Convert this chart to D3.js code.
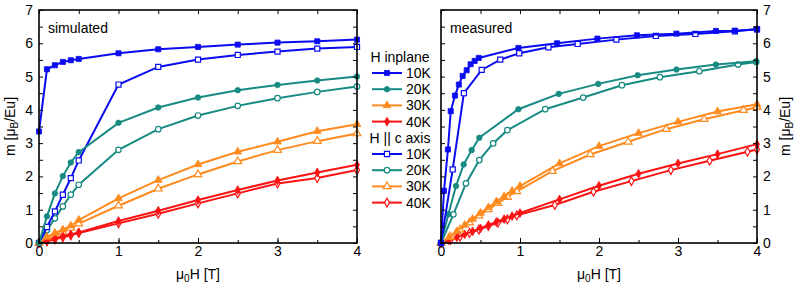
<!DOCTYPE html>
<html>
<head>
<meta charset="utf-8">
<script src="https://cdn.jsdelivr.net/npm/d3@7"></script>
<style>
  body { margin: 0; background: #fff; }
  svg { display: block; font-family: "Liberation Sans", Arial, sans-serif; }
</style>
</head>
<body>
<svg width="797" height="288"></svg>
<script>
// simulated curves, shared field values
const simH = [0, 0.1, 0.2, 0.3, 0.4, 0.5, 1, 1.5, 2, 2.5, 3, 3.5, 4];
const sim10in = [3.35, 5.22, 5.34, 5.44, 5.49, 5.53, 5.70, 5.82, 5.89, 5.96, 6.02, 6.06, 6.11];
const sim20in = [0, 0.80, 1.49, 2.01, 2.42, 2.73, 3.61, 4.07, 4.37, 4.59, 4.75, 4.88, 5.00];
const sim30in = [0, 0.18, 0.30, 0.40, 0.52, 0.69, 1.34, 1.89, 2.36, 2.74, 3.04, 3.36, 3.57];
const sim40in = [0, 0.07, 0.14, 0.21, 0.26, 0.32, 0.66, 0.97, 1.29, 1.59, 1.88, 2.12, 2.35];
const sim10c = [0, 0.48, 0.95, 1.45, 1.95, 2.48, 4.76, 5.29, 5.51, 5.65, 5.75, 5.84, 5.89];
const sim20c = [0, 0.39, 0.74, 1.10, 1.45, 1.75, 2.80, 3.42, 3.83, 4.12, 4.35, 4.54, 4.70];
const sim30c = [0, 0.12, 0.22, 0.33, 0.45, 0.58, 1.12, 1.63, 2.06, 2.45, 2.79, 3.06, 3.29];
const sim40c = [0, 0.05, 0.11, 0.17, 0.23, 0.30, 0.59, 0.88, 1.19, 1.49, 1.79, 1.95, 2.19];

// measured curves
const meas10inH = [0, 0.038, 0.088, 0.123, 0.177, 0.226, 0.274, 0.325, 0.375, 0.426, 0.478, 0.98, 1.47, 1.98, 2.48, 2.98, 3.48, 3.72, 4.0];
const meas10in = [0, 1.57, 2.81, 3.96, 4.43, 4.76, 5.02, 5.19, 5.37, 5.47, 5.56, 5.86, 6.00, 6.14, 6.24, 6.29, 6.37, 6.38, 6.42];
const meas10cH = [0, 0.148, 0.29, 0.515, 0.75, 0.99, 1.36, 1.73, 2.22, 2.72, 3.22, 3.72, 4.0];
const meas10c = [0, 2.21, 4.50, 5.20, 5.51, 5.70, 5.88, 5.98, 6.11, 6.22, 6.28, 6.36, 6.42];
const meas20inH = [0, 0.093, 0.19, 0.287, 0.388, 0.485, 0.98, 1.49, 1.99, 2.49, 2.98, 3.48, 3.99];
const meas20in = [0, 0.86, 1.71, 2.36, 2.79, 3.16, 4.02, 4.48, 4.78, 5.04, 5.21, 5.36, 5.46];
const meas20cH = [0, 0.157, 0.316, 0.485, 0.66, 0.84, 1.32, 1.80, 2.29, 2.77, 3.27, 3.76, 3.99];
const meas20c = [0, 0.86, 1.79, 2.49, 2.99, 3.39, 4.02, 4.37, 4.74, 4.98, 5.16, 5.36, 5.44];
const meas30inH = [0, 0.1, 0.2, 0.3, 0.4, 0.5, 0.6, 0.7, 0.8, 0.9, 1.0, 1.5, 2.0, 2.5, 3.0, 3.5, 4.0];
const meas30in = [0, 0.17, 0.35, 0.54, 0.72, 0.90, 1.07, 1.24, 1.40, 1.56, 1.71, 2.39, 2.91, 3.30, 3.64, 3.95, 4.17];
const meas30cH = [0, 0.12, 0.24, 0.36, 0.48, 0.6, 0.72, 0.84, 0.96, 1.41, 1.89, 2.37, 2.85, 3.33, 3.83, 4.0];
const meas30c = [0, 0.19, 0.40, 0.61, 0.82, 1.01, 1.20, 1.38, 1.55, 2.16, 2.66, 3.04, 3.42, 3.72, 3.99, 4.08];
const meas40inH = [0, 0.1, 0.2, 0.3, 0.4, 0.5, 0.6, 0.7, 0.8, 0.9, 1.0, 1.5, 2.0, 2.5, 3.0, 3.5, 4.0];
const meas40in = [0, 0.08, 0.17, 0.26, 0.35, 0.44, 0.54, 0.63, 0.72, 0.81, 0.90, 1.31, 1.72, 2.08, 2.39, 2.67, 2.97];
const meas40cH = [0, 0.12, 0.24, 0.36, 0.48, 0.6, 0.72, 0.84, 0.96, 1.44, 1.93, 2.41, 2.91, 3.40, 3.88, 4.0];
const meas40c = [0, 0.09, 0.19, 0.30, 0.40, 0.51, 0.61, 0.71, 0.83, 1.14, 1.54, 1.86, 2.19, 2.47, 2.74, 2.81];

const tempLabels = ["10K", "20K", "30K", "40K"];
const groupTitles = ["H inplane", "H || c axis"];
const xTicks = [0, 1, 2, 3, 4];

const colors = ["#0b0bf0", "#178a82", "#ff8a1e", "#fb1212"];
const shapes = [d3.symbolSquare, d3.symbolCircle, d3.symbolTriangle, d3.symbolDiamond];
const shapeSize = [26, 24, 26, 22];

const svg = d3.select("svg");
const plotTop = 10, plotBottom = 243;

const y = d3.scaleLinear().domain([0, 7]).range([plotBottom, plotTop]);

function zip(xs, ys) { return xs.map((h, i) => ({ h, m: ys[i] })); }

function drawPanel(left, right, series, yLabelsRight, tag) {
    const x = d3.scaleLinear().domain([0, 4]).range([left, right]);
    const g = svg.append("g");

    const line = d3.line().x(d => x(d.h)).y(d => y(d.m));

    series.forEach(s => {
        g.append("path")
            .attr("d", line(s.data))
            .attr("fill", "none")
            .attr("stroke", colors[s.k])
            .attr("stroke-width", 2);
        g.selectAll(null)
            .data(s.data)
            .enter()
            .append("path")
            .attr("d", d3.symbol().type(shapes[s.k]).size(shapeSize[s.k]))
            .attr("transform", d => `translate(${x(d.h)},${y(d.m)})`)
            .attr("fill", s.open ? "#fff" : colors[s.k])
            .attr("stroke", colors[s.k])
            .attr("stroke-width", s.open ? 1.2 : 0.8);
    });

    const minorX = d3.range(0, 4.01, 0.5);
    const minorY = d3.range(0, 7.01, 0.5);

    const styleAxis = a => {
        a.select(".domain").remove();
        a.selectAll("line").attr("stroke", "#000").attr("stroke-width", 1);
        a.selectAll("text").attr("font-size", 14).attr("font-family", "Liberation Sans, Arial, sans-serif").attr("fill", "#000");
    };

    // bottom / top
    svg.append("g").attr("transform", `translate(0,${plotBottom})`)
        .call(d3.axisBottom(x).tickValues(minorX).tickSize(-3).tickFormat(""))
        .call(styleAxis);
    svg.append("g").attr("transform", `translate(0,${plotBottom})`)
        .call(d3.axisBottom(x).tickValues(xTicks).tickSize(-5).tickPadding(3).tickFormat(d3.format("d")))
        .call(styleAxis);
    svg.append("g").attr("transform", `translate(0,${plotTop})`)
        .call(d3.axisTop(x).tickValues(minorX).tickSize(-4).tickFormat(""))
        .call(styleAxis);

    // left / right
    svg.append("g").attr("transform", `translate(${left},0)`)
        .call(d3.axisLeft(y).tickValues(minorY).tickSize(-4).tickPadding(6)
            .tickFormat(d => (!yLabelsRight && Number.isInteger(d)) ? d : ""))
        .call(styleAxis);
    svg.append("g").attr("transform", `translate(${right},0)`)
        .call(d3.axisRight(y).tickValues(minorY).tickSize(-4).tickPadding(6)
            .tickFormat(d => (yLabelsRight && Number.isInteger(d)) ? d : ""))
        .call(styleAxis);

    svg.append("rect")
        .attr("x", left).attr("y", plotTop)
        .attr("width", right - left).attr("height", plotBottom - plotTop)
        .attr("fill", "none").attr("stroke", "#000").attr("stroke-width", 1.6);

    svg.append("text")
        .attr("x", left + 9).attr("y", 33)
        .attr("font-size", 14)
        .text(tag);

    const xt = svg.append("text")
        .attr("x", (left + right) / 2).attr("y", 279)
        .attr("text-anchor", "middle")
        .attr("font-size", 14);
    xt.append("tspan").text("μ");
    xt.append("tspan").attr("font-size", 10).attr("dy", 3).text("0");
    xt.append("tspan").attr("dy", -3).text("H [T]");

    const ylx = yLabelsRight ? 790 : 15;
    const yt = svg.append("text")
        .attr("transform", `translate(${ylx},${(plotTop + plotBottom) / 2}) rotate(-90)`)
        .attr("text-anchor", "middle")
        .attr("font-size", 14);
    yt.append("tspan").text("m [μ");
    yt.append("tspan").attr("font-size", 10).attr("dy", 3).text("B");
    yt.append("tspan").attr("dy", -3).text("/Eu]");
}

const simSeries = [
    { k: 3, open: true, data: zip(simH, sim40c) },
    { k: 2, open: true, data: zip(simH, sim30c) },
    { k: 1, open: true, data: zip(simH, sim20c) },
    { k: 0, open: true, data: zip(simH, sim10c) },
    { k: 3, open: false, data: zip(simH, sim40in) },
    { k: 2, open: false, data: zip(simH, sim30in) },
    { k: 1, open: false, data: zip(simH, sim20in) },
    { k: 0, open: false, data: zip(simH, sim10in) }
];

const measSeries = [
    { k: 3, open: true, data: zip(meas40cH, meas40c) },
    { k: 3, open: false, data: zip(meas40inH, meas40in) },
    { k: 2, open: true, data: zip(meas30cH, meas30c) },
    { k: 2, open: false, data: zip(meas30inH, meas30in) },
    { k: 1, open: true, data: zip(meas20cH, meas20c) },
    { k: 1, open: false, data: zip(meas20inH, meas20in) },
    { k: 0, open: true, data: zip(meas10cH, meas10c) },
    { k: 0, open: false, data: zip(meas10inH, meas10in) }
];

drawPanel(39, 357, simSeries, false, "simulated");
drawPanel(441, 757, measSeries, true, "measured");

// legend
const legend = svg.append("g");
const rowsY = [[73, 89.2, 105.4, 121.6], [154, 170.2, 186.4, 202.6]];
const titleY = [62, 143];
groupTitles.forEach((t, gi) => {
    legend.append("text")
        .attr("x", 400).attr("y", titleY[gi])
        .attr("text-anchor", "middle")
        .attr("font-size", 14)
        .text(t);
    tempLabels.forEach((lab, k) => {
        const ry = rowsY[gi][k];
        legend.append("line")
            .attr("x1", 372).attr("x2", 402)
            .attr("y1", ry).attr("y2", ry)
            .attr("stroke", colors[k]).attr("stroke-width", 2);
        legend.append("path")
            .attr("d", d3.symbol().type(shapes[k]).size(shapeSize[k]))
            .attr("transform", `translate(387,${ry})`)
            .attr("fill", gi === 1 ? "#fff" : colors[k])
            .attr("stroke", colors[k])
            .attr("stroke-width", gi === 1 ? 1.2 : 0.8);
        legend.append("text")
            .attr("x", 406).attr("y", ry + 5)
            .attr("font-size", 14)
            .text(lab);
    });
});
</script>
</body>
</html>
